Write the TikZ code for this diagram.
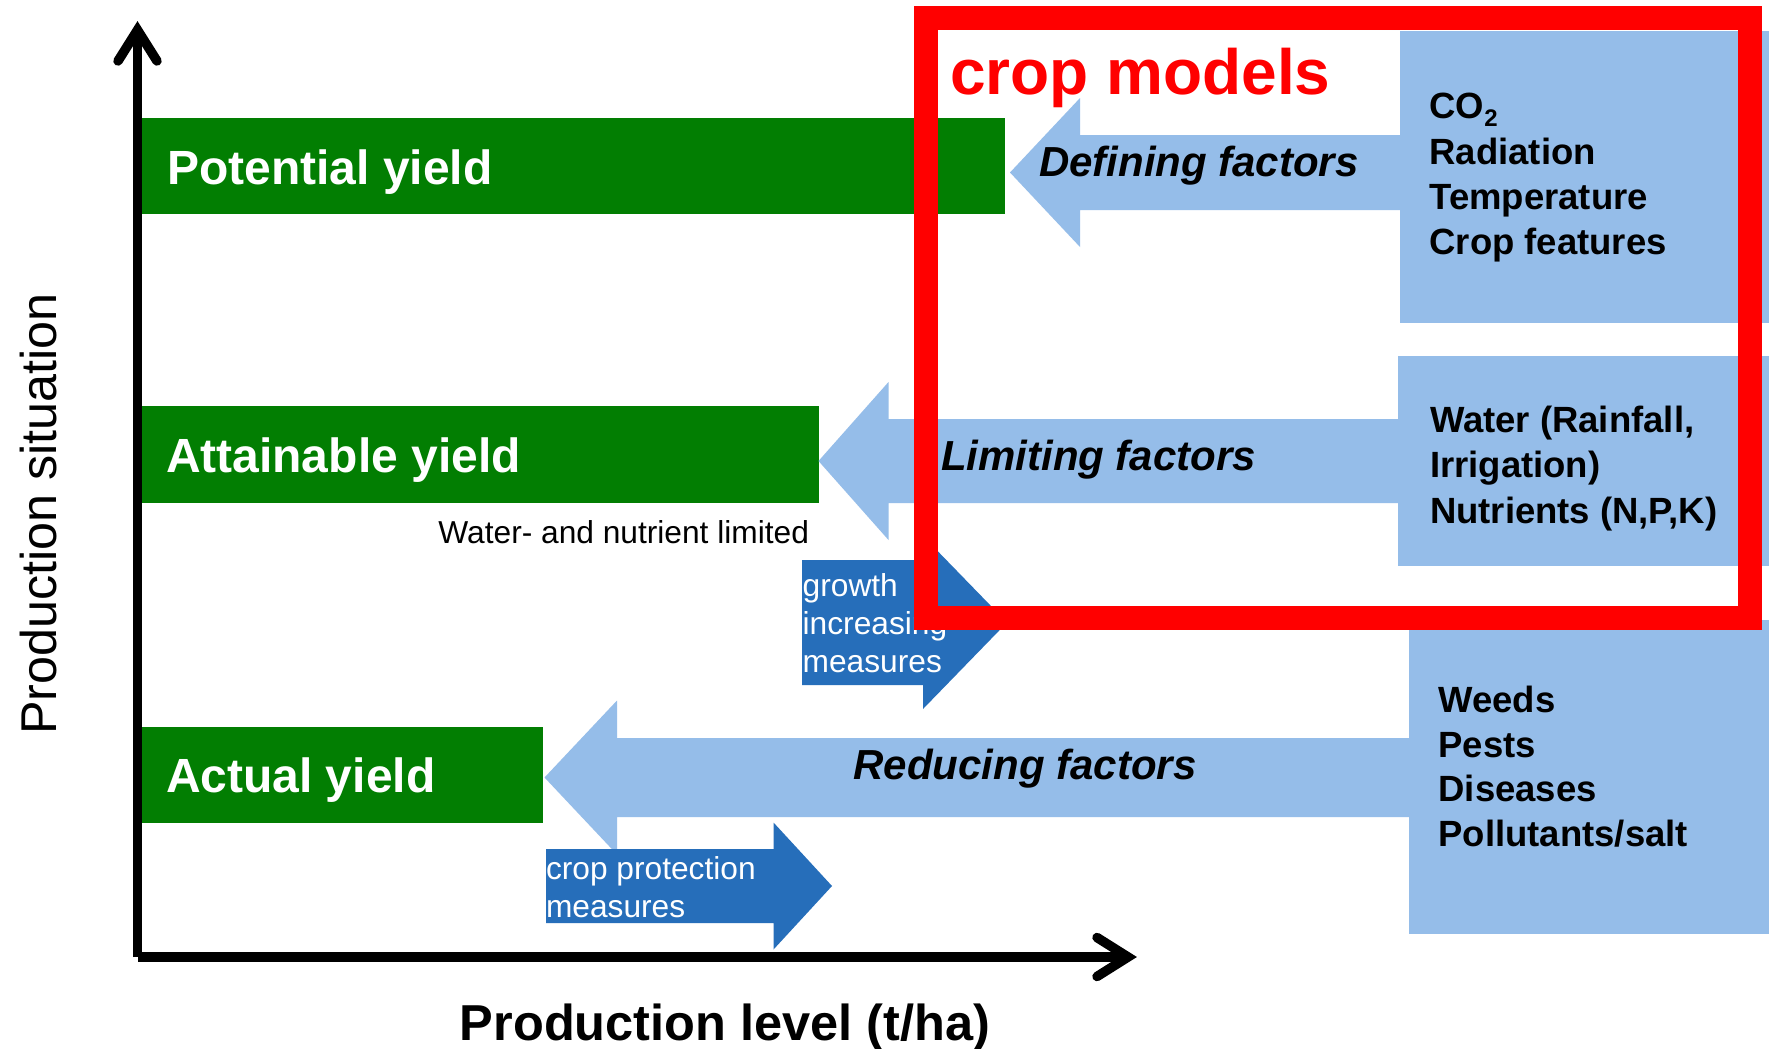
\documentclass[tikz,border=0pt]{standalone}
\usepackage{fontspec}
\setmainfont{Liberation Sans}
\usetikzlibrary{calc}

\definecolor{yieldgreen}{RGB}{2,126,2}
\definecolor{factorblue}{RGB}{149,189,233}
\definecolor{measureblue}{RGB}{38,110,186}
\definecolor{framered}{RGB}{255,0,0}

\newcommand\fsz[1]{\fontsize{#1pt}{#1pt}\selectfont}

\tikzset{
  every node/.style={inner sep=0pt, outer sep=0pt},
  yieldbox/.style={fill=yieldgreen, anchor=north west},
  yieldtext/.style={anchor=base west, text=white, font=\fsz{48}\bfseries},
  factorbox/.style={fill=factorblue, anchor=north west},
  factorlabel/.style={anchor=base west, font=\fsz{42}\bfseries\itshape},
  listtext/.style={anchor=base west, font=\fsz{36.5}\bfseries},
  measuretext/.style={anchor=base west, text=white, font=\fsz{31.7}},
  axisline/.style={line width=9.5pt},
  axishead/.style={line width=9.5pt, line cap=round, line join=miter},
}

\begin{document}
\begin{tikzpicture}[x=1pt, y=-1pt]
\useasboundingbox (0,0) rectangle (1769,1049);
\fill[white] (0,0) rectangle (1769,1049);

% factor boxes on the right
\node[factorbox, minimum width=369pt, minimum height=292pt] (defbox) at (1400,31) {};
\node[factorbox, minimum width=371pt, minimum height=210pt] (limbox) at (1398,356) {};
\node[factorbox, minimum width=360pt, minimum height=314pt] (redbox) at (1409,620) {};

% yield levels
\node[yieldbox, minimum width=865pt, minimum height=96pt] (potential) at (140,118) {};
\node[yieldbox, minimum width=678.5pt, minimum height=96.5pt] (attainable) at (140,406) {};
\node[yieldbox, minimum width=402.5pt, minimum height=96pt] (actual) at (140,726.5) {};

% tips of the factor arrows
\coordinate (deftip) at ($(potential.east)+(5,6.5)$);
\coordinate (limtip) at ($(attainable.east)+(0,6.75)$);
\coordinate (redtip) at ($(actual.east)+(2,3)$);

% factor arrows, from each box to its yield level
\fill[factorblue] (deftip) -- ++(70,-74.5) -- ++(0,37)
  -- ($(deftip -| defbox.west)+(4,-37.5)$) -- ($(deftip -| defbox.west)+(4,37.5)$)
  -- ($(deftip)+(70,37.5)$) -- ++(0,37) -- cycle;
\fill[factorblue] (limtip) -- ++(70,-79) -- ++(0,37)
  -- ($(limtip -| limbox.west)+(4,-42)$) -- ($(limtip -| limbox.west)+(4,42)$)
  -- ($(limtip)+(70,42)$) -- ++(0,37) -- cycle;
\fill[factorblue] (redtip) -- ++(72.5,-77) -- ++(0,37.5)
  -- ($(redtip -| redbox.west)+(4,-39.5)$) -- ($(redtip -| redbox.west)+(4,39.5)$)
  -- ($(redtip)+(72.5,39.5)$) -- ++(0,37.5) -- cycle;

% measure arrows
\coordinate (growth) at (802,560);
\coordinate (protect) at (546,849);
\fill[measureblue] (growth) -- ++(121,0) -- ++(0,-24) -- ++(84,86.5) -- ++(-84,86.5)
  -- ++(0,-24) -- ++(-121,0) -- cycle;
\fill[measureblue] (protect) -- ++(227.5,0) -- ++(0,-26.5) -- ++(58.5,63.5) -- ++(-58.5,63.5)
  -- ++(0,-26.5) -- ++(-227.5,0) -- cycle;

% yield labels
\node[yieldtext] (potlabel) at (167,184) {Potential yield};
\node[yieldtext] (attlabel) at (166,472) {Attainable yield};
\node[yieldtext] (actlabel) at (166,792.5) {Actual yield};
\node[anchor=base east, font=\fsz{31.7}] (limited) at (809,543) {Water- and nutrient limited};

% factor labels
\node[factorlabel] (deflabel) at (1039,176.5) {Defining factors};
\node[factorlabel] (limlabel) at (941,470.5) {Limiting factors};
\node[factorlabel] (redlabel) at (853.6,779) {Reducing factors};

% factor lists
\node[listtext] (def1) at (1429.5,118.5) {CO\raisebox{-8pt}{\fsz{24}\bfseries 2}};
\node[listtext] (def2) at (1429.5,164) {Radiation};
\node[listtext] (def3) at (1429.5,209.5) {Temperature};
\node[listtext] (def4) at (1429.5,254.5) {Crop features};

\node[listtext] (lim1) at (1430,432) {Water (Rainfall,};
\node[listtext] (lim2) at (1430,477.5) {Irrigation)};
\node[listtext] (lim3) at (1430,523) {Nutrients (N,P,K)};

\node[listtext] (red1) at (1438.5,712.5) {Weeds};
\node[listtext] (red2) at (1438.5,757) {Pests};
\node[listtext] (red3) at (1438.5,801.5) {Diseases};
\node[listtext] (red4) at (1438.5,846) {Pollutants/salt};

% measure labels
\node[measuretext] (gro1) at (802.7,596) {growth};
\node[measuretext] (gro2) at (802.7,634) {increasing};
\node[measuretext] (gro3) at (802.7,672) {measures};
\node[measuretext] (pro1) at (546,879) {crop protection};
\node[measuretext] (pro2) at (546,917.5) {measures};

% axes
\coordinate (origin) at (137.5,957);
\coordinate (ytip) at (137.5,30);
\coordinate (xtip) at (1128,957);
\draw[axisline] (origin) -- (ytip);
\draw[axisline] (origin) -- (xtip);
\draw[axishead] ($(ytip)+(-19.5,31)$) -- (ytip) -- ($(ytip)+(19.5,31)$);
\draw[axishead] ($(xtip)+(-31,-19.5)$) -- (xtip) -- ($(xtip)+(-31,19.5)$);
\node[anchor=base, font=\fsz{50.5}\bfseries] (xlabel) at (725,1040) {Production level (t/ha)};
\node[anchor=base, rotate=90, font=\fsz{50.3}] (ylabel) at (56,514) {Production situation};

% crop model frame
\draw[framered, line width=24pt] (926,18) rectangle (1750,618);
\node[anchor=base west, text=framered, font=\fsz{64}\bfseries] (cropmodels) at (950,95) {crop models};
\end{tikzpicture}
\end{document}
